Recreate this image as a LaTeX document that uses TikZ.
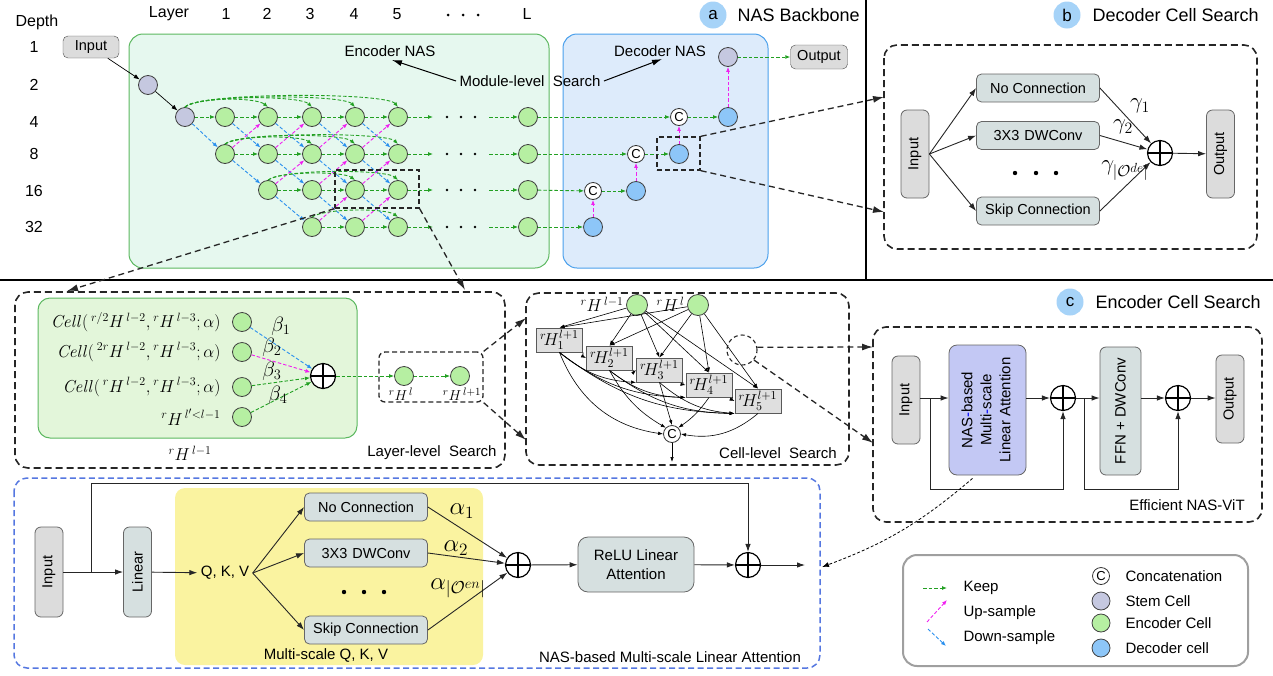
\documentclass[tikz,border=0pt]{standalone}
\usepackage[no-math]{fontspec}
\setmainfont{Liberation Sans}
\usetikzlibrary{arrows.meta,calc}
\definecolor{encG}{HTML}{B6EFA2}
\definecolor{decB}{HTML}{8DC6F8}
\definecolor{stemC}{HTML}{C5C8E0}
\definecolor{keepG}{HTML}{22A022}
\definecolor{upM}{HTML}{F020F0}
\definecolor{downB}{HTML}{2A90EE}
\definecolor{encBg}{HTML}{E6F8EF}
\definecolor{encBd}{HTML}{5CB860}
\definecolor{decBg}{HTML}{DDEBFB}
\definecolor{decBd}{HTML}{4AA0EC}
\definecolor{opF}{HTML}{D6E0E0}
\definecolor{ioF}{HTML}{DCDCDC}
\definecolor{tagB}{HTML}{A6D3F8}
\definecolor{layBg}{HTML}{E3F6DA}
\definecolor{yelBg}{HTML}{FAF3A0}
\definecolor{nasF}{HTML}{C3C8F4}
\definecolor{bluDash}{HTML}{5577E0}
\newcommand{\fsz}[1]{\fontsize{#1}{#1}\selectfont}
\begin{document}
\begin{tikzpicture}[x=1pt,y=-1pt,
  every node/.style={font=\fsz{15}},
  cell/.style={circle,draw=black!75,line width=0.8pt,minimum size=19pt,inner sep=0pt},
  enc/.style={cell,fill=encG},
  decc/.style={cell,fill=decB},
  stemc/.style={cell,fill=stemC},
  cat/.style={circle,draw=black!80,line width=0.8pt,fill=white,minimum size=17pt,inner sep=0pt,font=\fsz{13}},
  keep/.style={draw=keepG,line width=0.9pt,dash pattern=on 3.5pt off 2pt,-{Latex[length=5pt,width=4pt]}},
  upar/.style={keep,draw=upM},
  downar/.style={keep,draw=downB},
  arr/.style={draw=black!85,line width=0.9pt,-{Latex[length=8pt,width=5.5pt]}},
  tarr/.style={draw=black,line width=0.6pt,-{Latex[length=5pt,width=3.5pt]}},
  bigdarr/.style={draw=black!85,line width=1.3pt,dash pattern=on 6pt off 4pt,-{Latex[length=11pt,width=7pt]}},
  dbx/.style={draw=black!85,line width=1.3pt,dash pattern=on 5pt off 3pt,inner sep=0pt},
  secbox/.style={draw=black!85,line width=1.6pt,dash pattern=on 7pt off 4pt,rounded corners=13pt},
  opbox/.style={draw=black!60,line width=0.8pt,fill=opF,rounded corners=5pt,minimum width=123pt,minimum height=28pt,inner sep=0pt,font=\fsz{14.5}},
  iobox/.style={draw=black!60,line width=0.8pt,fill=ioF,rounded corners=6pt,minimum width=28pt,minimum height=88pt,inner sep=0pt,font=\fsz{14.5}},
  pluscirc/.style={circle,draw=black,line width=1.2pt,fill=white,minimum size=25pt,inner sep=0pt,
    path picture={\draw[line width=1.2pt] (path picture bounding box.north)--(path picture bounding box.south) (path picture bounding box.west)--(path picture bounding box.east);}},
  tagc/.style={circle,fill=tagB,minimum size=27pt,inner sep=0pt,font=\fsz{17}},
  hbox/.style={draw=black!65,line width=0.9pt,fill=gray!25,minimum width=46pt,minimum height=24pt,inner sep=0pt,font=\fsz{14.4}},
  glab/.style={font=\fsz{20.74}},
]
\useasboundingbox (0,0) rectangle (1273,675);

% ---------------- (a) NAS backbone ----------------
\draw[draw=encBd,fill=encBg,line width=1pt,rounded corners=14pt] (129,34) rectangle (549,268);
\draw[draw=decBd,fill=decBg,line width=1pt,rounded corners=14pt] (563,34) rectangle (768,268);

\node[font=\fsz{16}] (hdepth) at (37,22) {Depth};
\foreach \d/\y in {1/47,2/85,4/122,8/154,16/191,32/227} \node[font=\fsz{16}] (dep\d) at (34,\y) {\d};
\node[font=\fsz{16}] (hlayer) at (169,14) {Layer};
\foreach \c/\x in {1/226,2/267,3/310,4/354,5/397} \node[font=\fsz{16}] (lay\c) at (\x,14) {\c};
\node[font=\fsz{16}] (layL) at (527,14) {L};
\fill (448,15) circle (1.5) (463,15) circle (1.5) (478,15) circle (1.5);

\node[draw=black!70,fill=ioF,rounded corners=5pt,minimum width=56pt,minimum height=22pt,inner sep=0pt,font=\fsz{14.5}] (inA) at (91,47) {Input};
\node[stemc] (s1) at (148,85) {};
\node[stemc] (s2) at (185,117) {};
\foreach \c/\x in {1/225,2/268,3/312,4/355,5/398} {
  \node[enc] (e1\c) at (\x,117) {};
  \node[enc] (e2\c) at (\x,154) {};
}
\foreach \c/\x in {2/268,3/312,4/355,5/398} \node[enc] (e3\c) at (\x,190) {};
\foreach \c/\x in {3/312,4/355,5/398} \node[enc] (e4\c) at (\x,227) {};
\foreach \r/\y in {1/117,2/154,3/190,4/227} \node[enc] (eL\r) at (528,\y) {};

\draw[line width=0.7pt,-{Latex[length=6pt,width=4.5pt]}] (inA) -- (s1);
\draw[line width=0.7pt,-{Latex[length=6pt,width=4.5pt]}] (s1) -- (s2);
\draw[keep] (s2) -- (e11);
\foreach \a/\b in {11/12,12/13,13/14,14/15,21/22,22/23,23/24,24/25,32/33,33/34,34/35,43/44,44/45} \draw[keep] (e\a) -- (e\b);
\foreach \r/\y in {1/117,2/154,3/190,4/227} {
  \draw[keep] (e\r5) -- (433,\y);
  \fill (447,\y) circle (1.3) (461,\y) circle (1.3) (475,\y) circle (1.3);
  \draw[keep] (489,\y) -- (eL\r);
}
\draw[downar] (s2) -- (e21);
\foreach \a/\b in {11/22,12/23,13/24,14/25,21/32,22/33,23/34,24/35,32/43,33/44,34/45} \draw[downar] (e\a) -- (e\b);
\foreach \a/\b in {21/12,22/13,23/14,24/15,32/23,33/24,34/25,43/34,44/35} \draw[upar] (e\a) -- (e\b);
% skip arcs
\foreach \t/\h in {2/10,3/12,4/13,5/15} \draw[keep] (s2.north) .. controls +(12,-\h) and +(-12,-\h) .. (e1\t.north);
\foreach \t/\h in {3/9,4/11,5/12} \draw[keep] (e21.north) .. controls +(12,-\h) and +(-12,-\h) .. (e2\t.north);
\foreach \t/\h in {4/9,5/11} \draw[keep] (e32.north) .. controls +(12,-\h) and +(-12,-\h) .. (e3\t.north);
\draw[keep] (e43.north) .. controls +(12,-9) and +(-12,-9) .. (e45.north);

% decoder
\node[cat] (c1) at (679,117) {C};
\node[cat] (c2) at (636,154) {C};
\node[cat] (c3) at (593,191) {C};
\node[decc] (d1) at (728,117) {};
\node[decc] (d2) at (679,154) {};
\node[decc] (d3) at (636,191) {};
\node[decc] (d4) at (593,227) {};
\node[stemc] (s3) at (728,57) {};
\node[draw=black!70,fill=ioF,rounded corners=5pt,minimum width=57pt,minimum height=24pt,inner sep=0pt,font=\fsz{14.5}] (outA) at (819,57) {Output};
\draw[keep] (eL1) -- (c1);
\draw[keep] (eL2) -- (c2);
\draw[keep] (eL3) -- (c3);
\draw[keep] (eL4) -- (d4);
\draw[keep] (c1) -- (d1);
\draw[keep] (c2) -- (d2);
\draw[keep] (c3) -- (d3);
\draw[keep] (s3) -- (outA);
\draw[upar] (d4) -- (c3);
\draw[upar] (d3) -- (c2);
\draw[upar] (d2) -- (c1);
\draw[upar] (d1) -- (s3);

\node (encnas) at (390,51) {Encoder NAS};
\node (decnas) at (660,51) {Decoder NAS};
\node (mls) at (530,81) {Module-level\ \ Search};
\coordinate (encTip) at (392,60);
\coordinate (decTip) at (662,59);
\draw[line width=1pt,-{Latex[length=10pt,width=6pt]}] (mls.west) -- (encTip);
\draw[line width=1pt,-{Latex[length=10pt,width=6pt]}] (mls.east) -- (decTip);

\node[dbx,minimum width=84pt,minimum height=38pt] (ebox) at (377,189) {};
\node[dbx,minimum width=43pt,minimum height=33pt] (dbox) at (678.5,153.5) {};

\node[tagc] (tagA) at (713,15) {a};
\node[anchor=west,font=\fsz{18}] (ttlA) at (734,15) {NAS Backbone};

% ---------------- (b) decoder cell search ----------------
\draw[secbox] (884,45) rectangle (1257,249);
\coordinate (bTip1) at (884,97);
\coordinate (bTip2) at (884,212);
\draw[bigdarr] (dbox.north east) -- (bTip1);
\draw[bigdarr] (dbox.south east) -- (bTip2);
\node[tagc] (tagB) at (1067,15) {b};
\node[anchor=west,font=\fsz{18}] (ttlB) at (1089,15) {Decoder Cell Search};
\node[iobox] (inB) at (915,154) {\rotatebox{90}{Input}};
\node[opbox] (ncB) at (1038,88) {No Connection};
\node[opbox] (dwB) at (1038,135.5) {3X3\hspace{5pt}DWConv};
\node[opbox] (skB) at (1038,211) {Skip Connection};
\node[pluscirc] (plB) at (1160,153) {};
\node[iobox] (outB) at (1220.5,154) {\rotatebox{90}{Output}};
\draw[arr] (inB.east) -- (ncB.west);
\draw[arr] (inB.east) -- (dwB.west);
\draw[arr] (inB.east) -- (skB.west);
\draw[arr] (ncB.east) -- (plB);
\draw[arr] (dwB.east) -- (plB);
\draw[arr] (skB.east) -- (plB);
\draw[arr] (plB) -- (outB);
\fill (1015,173) circle (2.2) (1036,173) circle (2.2) (1056,173) circle (2.2);
\node[glab] (g1B) at (1140,106) {\scalebox{1.1}{$\gamma_{1}$}};
\node[glab] (g2B) at (1123,127) {\scalebox{1.1}{$\gamma_{2}$}};
\node[glab] (g3B) at (1125,171) {\scalebox{1.1}{$\gamma_{|\mathcal{O}^{de}|}$}};

% ---------------- separators ----------------
\draw[line width=2pt] (866,0) -- (866,279);
\draw[line width=2.5pt] (0,280) -- (1273,280);

% ---------------- (c) encoder cell search ----------------
\node[tagc] (tagC) at (1070,302) {c};
\node[anchor=west,font=\fsz{18}] (ttlC) at (1092,302) {Encoder Cell Search};

% layer-level
\draw[secbox] (15,292) rectangle (505,468);
\draw[draw=encBd,fill=layBg,line width=1pt,rounded corners=12pt] (38,298) rectangle (357,438);
\coordinate (lTip1) at (67,291);
\coordinate (lTip2) at (465,290);
\draw[bigdarr] (ebox.south west) -- (lTip1);
\draw[bigdarr] (ebox.south east) -- (lTip2);
\node[enc] (g1) at (242,322) {};
\node[enc] (g2) at (242,352) {};
\node[enc] (g3) at (242,387) {};
\node[enc] (g4) at (242,417) {};
\node[anchor=east,font=\fsz{17.28}] (lc1) at (224,322) {$\mathit{Cell}(\,{}^{r/2}H^{\,l-2},{}^{r}H^{\,l-3};\alpha)$};
\node[anchor=east,font=\fsz{17.28}] (lc2) at (224,352) {$\mathit{Cell}(\,{}^{2r}H^{\,l-2},{}^{r}H^{\,l-3};\alpha)$};
\node[anchor=east,font=\fsz{17.28}] (lc3) at (224,387) {$\mathit{Cell}(\,{}^{r}H^{\,l-2},{}^{r}H^{\,l-3};\alpha)$};
\node[anchor=east,font=\fsz{17.28}] (lc4) at (224,417) {${}^{r}H^{\,l'<l-1}$};
\node[pluscirc] (plL) at (323,376) {};
\draw[downar] (g1) -- (plL);
\draw[upar] (g2) -- (plL);
\draw[keep] (g3) -- (plL);
\draw[keep] (g4) -- (plL);
\node[glab] (b1) at (281,326) {$\beta_{1}$};
\node[glab] (b2) at (272,347) {$\beta_{2}$};
\node[glab] (b3) at (272,371) {$\beta_{3}$};
\node[glab] (b4) at (278,395) {$\beta_{4}$};
\node[font=\fsz{17.28}] (lH) at (190,453) {${}^{r}H^{\,l-1}$};
\node[dbx,rounded corners=6pt,minimum width=104pt,minimum height=50pt] (sbox) at (431,377) {};
\node[enc] (h1) at (404,376) {};
\node[enc] (h2) at (460,376) {};
\draw[keep] (plL) -- (h1);
\draw[keep] (h1) -- (h2);
\node (h1l) at (401,394) {${}^{r}H^{\,l}$};
\node (h2l) at (462,394) {${}^{r}H^{\,l+1}$};
\node (llsearch) at (432,453) {Layer-level\ \ Search};

% cell-level
\draw[secbox] (526,293) rectangle (849,465);
\coordinate (cTip1) at (526,318);
\coordinate (cTip2) at (526,440);
\draw[bigdarr] (sbox.north east) -- (cTip1);
\draw[bigdarr] (sbox.south east) -- (cTip2);
\node[enc,minimum size=21pt] (i1) at (637,305) {};
\node[enc,minimum size=21pt] (i2) at (698,305) {};
\node[anchor=east,font=\fsz{17.28}] (i1l) at (627,304) {${}^{r}H^{\,l-1}$};
\node[anchor=east,font=\fsz{17.28}] (i2l) at (688,304) {${}^{r}H^{\,l}$};
\foreach \k/\x/\y in {1/559.5/340,2/609.5/358,3/659.5/370,4/709/385,5/758/401}
  \node[hbox] (H\k) at (\x,\y) {\scalebox{1.2}{${}^{r}\!H^{l+1}_{\k}$}};
\node[cat] (cc) at (672,434) {C};
\coordinate (ccOut) at (672,462);
\draw[tarr] (cc) -- (ccOut);
\foreach \k in {1,...,5} {
  \draw[tarr] (i1) -- (H\k.north);
  \draw[tarr] (i2) -- (H\k.north);
}
\foreach \a/\b in {1/2,2/3,3/4,4/5} \draw[tarr] (H\a.south east) to[bend right=35] (H\b.west);
\foreach \a/\b in {1/3,1/4,1/5,2/4,2/5,3/5} \draw[tarr] (H\a.south) to[bend right=18] (H\b.south west);
\draw[tarr] (H1.south) to[bend right=30] (cc.west);
\draw[tarr] (H2.south) to[bend right=15] (cc.north west);
\draw[tarr] (H3.south) -- (cc.north);
\draw[tarr] (H4.south) to[bend left=10] (cc.north east);
\draw[tarr] (H5.south) to[bend left=25] (cc.east);
\node[circle,draw=black!85,line width=1.1pt,dash pattern=on 4pt off 3pt,minimum size=30pt,inner sep=0pt] (dc) at (742,350) {};
\node (clsearch) at (778,453) {Cell-level\ \ Search};

% efficient NAS-ViT
\draw[secbox] (873,327) rectangle (1262,522);
\coordinate (eTip1) at (873,347);
\coordinate (eTip2) at (873,443);
\draw[bigdarr] (dc.10) -- (eTip1);
\draw[bigdarr] (dc.-40) -- (eTip2);
\node[iobox] (inC) at (906,400) {\rotatebox{90}{Input}};
\node[draw=black!60,line width=0.8pt,fill=nasF,rounded corners=8pt,minimum width=77pt,minimum height=130pt,inner sep=0pt,font=\fontsize{15}{19}\selectfont] (nas) at (987.5,410) {\rotatebox{90}{\begin{tabular}{@{}c@{}}NAS\textcolor{blue}{-}based\\Multi\textcolor{blue}{-}scale\\Linear Attention\end{tabular}}};
\node[pluscirc] (pc1) at (1063,398) {};
\node[draw=black!60,line width=0.8pt,fill=opF,rounded corners=6pt,minimum width=41pt,minimum height=128pt,inner sep=0pt,font=\fsz{15}] (ffn) at (1120.5,411) {\rotatebox{90}{FFN + DWConv}};
\node[pluscirc] (pc2) at (1178,398) {};
\node[iobox] (outC) at (1230,399) {\rotatebox{90}{Output}};
\draw[arr] (inC.east |- pc1) -- (nas.west |- pc1);
\draw[arr] (nas.east |- pc1) -- (pc1);
\draw[arr] (pc1) -- (ffn.west |- pc1);
\draw[arr] (ffn.east |- pc2) -- (pc2);
\draw[arr] (pc2) -- (outC.west |- pc2);
\coordinate (sk1) at (930,398);
\coordinate (sk2) at (1084,398);
\draw[arr] (sk1) -- (930,489) -| (pc1.south);
\draw[arr] (sk2) -- (1084,489) -| (pc2.south);
\node (effvit) at (1187,505) {Efficient NAS-ViT};

% ---------------- bottom: NAS-based multi-scale linear attention ----------------
\draw[draw=bluDash,line width=1.5pt,dash pattern=on 6pt off 3.5pt,rounded corners=13pt] (14,478) rectangle (820,668);
\fill[yelBg,rounded corners=10pt] (175,488) rectangle (483,665);
\node[iobox,minimum height=90pt] (inD) at (49,572) {\rotatebox{90}{Input}};
\node[iobox,fill=opF,minimum height=90pt] (lin) at (137.5,572) {\rotatebox{90}{Linear}};
\node (qkv) at (225,573) {Q, K, V};
\node[opbox] (ncD) at (366,507) {No Connection};
\node[opbox] (dwD) at (366,553) {3X3\hspace{5pt}DWConv};
\node[opbox] (skD) at (366,630) {Skip Connection};
\node[pluscirc] (pd1) at (518,565) {};
\node[draw=black!60,line width=0.8pt,fill=opF,rounded corners=10pt,minimum width=116pt,minimum height=55pt,align=center,font=\fontsize{15}{19}\selectfont] (relu) at (636,564.5) {ReLU Linear\\Attention};
\node[pluscirc] (pd2) at (748,565) {};
\coordinate (dEnd) at (805,565);
\draw[arr] (inD) -- (lin);
\draw[arr] (lin) -- (qkv);
\draw[arr] (qkv.east) -- (ncD.west);
\draw[arr] (qkv.east) -- (dwD.west);
\draw[arr] (qkv.east) -- (skD.west);
\draw[arr] (ncD.east) -- (pd1);
\draw[arr] (dwD.east) -- (pd1);
\draw[arr] (skD.east) -- (pd1);
\draw[arr] (pd1) -- (relu);
\draw[arr] (relu) -- (pd2);
\draw[arr] (pd2) -- (dEnd);
\coordinate (skd) at (91,572);
\draw[arr] (skd) -- (91,483) -| (pd2.north);
\fill (344,592) circle (2.2) (364,592) circle (2.2) (384,592) circle (2.2);
\node[glab] (a1) at (462,511) {\scalebox{1.2}{$\alpha_{1}$}};
\node[glab] (a2) at (456,548) {\scalebox{1.2}{$\alpha_{2}$}};
\node[glab] (a3) at (458,588) {\scalebox{1.2}{$\alpha_{|\mathcal{O}^{en}|}$}};
\node (msqkv) at (326,655) {Multi-scale Q, K, V};
\node (nasml) at (670,657) {NAS-based Multi-scale Linear Attention};
\coordinate (botTip) at (822,567);
\draw[line width=0.8pt,dash pattern=on 3pt off 2pt,-{Latex[length=7pt,width=5pt]}] ($(nas.south)+(-15,3)$) to[bend left=10] (botTip);

% ---------------- legend ----------------
\draw[draw=gray!75,line width=2pt,rounded corners=14pt] (903,555) rectangle (1248,666);
\coordinate (kA) at (923,588);
\coordinate (kB) at (947,588);
\coordinate (uA) at (927,622);
\coordinate (uB) at (947,600);
\coordinate (dA) at (928,629);
\coordinate (dB) at (946,646);
\draw[keep] (kA) -- (kB);
\draw[upar] (uA) -- (uB);
\draw[downar] (dA) -- (dB);
\node[anchor=west] (lkeep) at (960,588) {Keep};
\node[anchor=west] (lup) at (960,613) {Up-sample};
\node[anchor=west] (ldown) at (960,638) {Down-sample};
\node[cat] (lgC) at (1101,576) {C};
\node[stemc,minimum size=18pt] (lgS) at (1101,601) {};
\node[enc,minimum size=18pt] (lgE) at (1101,623) {};
\node[decc,minimum size=18pt] (lgD) at (1101,648) {};
\node[anchor=west] (lcat) at (1122,576) {Concatenation};
\node[anchor=west] (lstem) at (1122,601) {Stem Cell};
\node[anchor=west] (lenc) at (1122,623) {Encoder Cell};
\node[anchor=west] (ldec) at (1122,648) {Decoder cell};
\end{tikzpicture}
\end{document}
